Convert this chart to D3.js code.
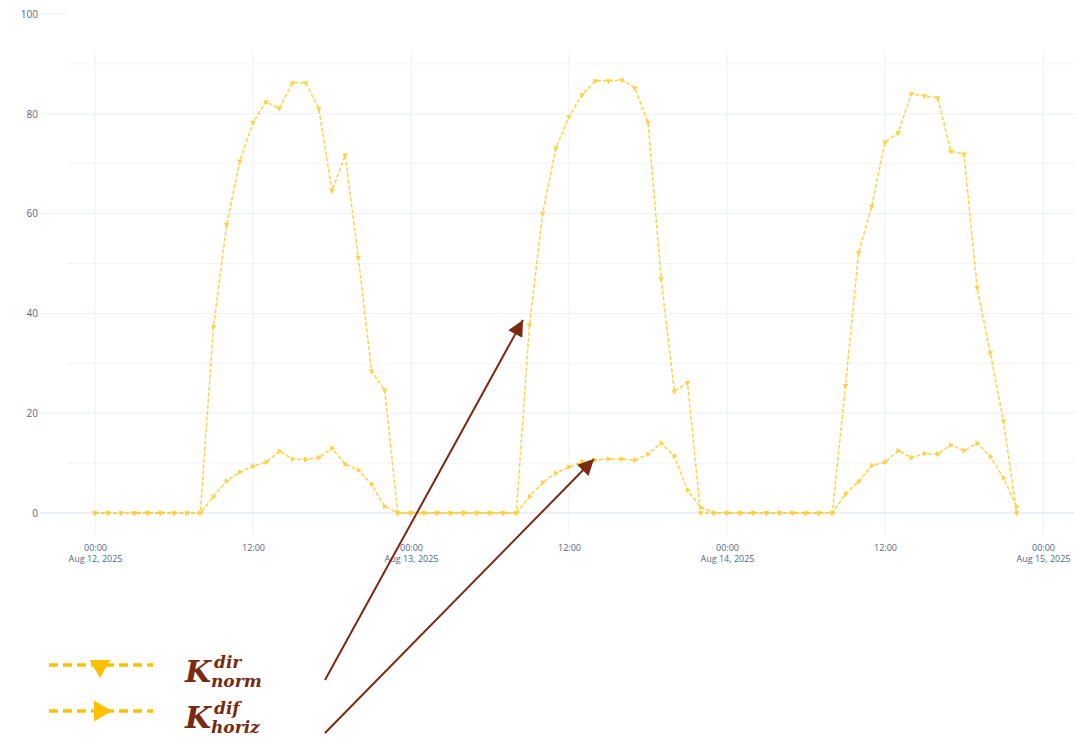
<!DOCTYPE html>
<html lang="en">
  <head>
    <meta charset="utf-8">
    <title>K dir norm / K dif horiz</title>
    <style>
      body{ margin:0; background:#fff; }
      .tick text{ font-family:"Open Sans", sans-serif; fill:#506784; }
    </style>
    <script type="text/javascript" src="https://cdn.jsdelivr.net/npm/d3@7"></script>
  </head>
  <body>
  <svg width="1086" height="741"></svg>
    <script>
    // hourly values from Aug 12, 2025 00:00
    var startTime = "2025-08-12 00:00";
    var kDirNorm = [
      0,0,0,0,0,0,0,0,0, 37.3,57.8,70.5,78.3,82.4,81.1,86.2,86.2,81.1,64.6,71.7,51.2,28.5,24.6,0,
      0,0,0,0,0,0,0,0,0, 37.7,60.1,73.1,79.4,83.8,86.6,86.6,86.8,85.2,78.3,46.9,24.4,26.1,0,0,
      0,0,0,0,0,0,0,0,0, 25.5,52.2,61.5,74.3,76.2,84.0,83.6,83.2,72.5,71.9,45.1,32.1,18.4,0
    ];
    var kDifHoriz = [
      0,0,0,0,0,0,0,0,0, 3.3,6.4,8.2,9.4,10.2,12.4,10.8,10.7,11.1,13.0,9.8,8.6,5.8,1.3,0,
      0,0,0,0,0,0,0,0,0, 3.3,6.1,8.0,9.2,10.3,10.6,10.8,10.8,10.6,11.8,14.0,11.4,4.6,1.1,0,
      0,0,0,0,0,0,0,0,0, 3.8,6.3,9.5,10.2,12.5,11.1,11.9,11.8,13.6,12.5,14.0,11.3,7.0,1.3
    ];
    var yTicks = [0,20,40,60,80,100];
    var yMinor = [10,30,50,70,90];
    var xTickTimes = ["2025-08-12 00:00","2025-08-12 12:00","2025-08-13 00:00","2025-08-13 12:00",
                      "2025-08-14 00:00","2025-08-14 12:00","2025-08-15 00:00"];

    var parseTime = d3.timeParse("%Y-%m-%d %H:%M");
    var t0 = parseTime(startTime);
    var lineColor = "#FFC000", brown = "#782A12";

    var svg = d3.select("svg");
    var plot = {left:67, right:1075, top:52, bottom:535};

    var xScale = d3.scaleTime()
        .domain([parseTime("2025-08-12 00:00"), parseTime("2025-08-15 00:00")])
        .range([95, 1043]);
    var yScale = d3.scaleLinear().domain([0,100]).range([513,14]);

    svg.append("clipPath").attr("id","plotclip").append("rect")
        .attr("x",plot.left).attr("y",plot.top)
        .attr("width",plot.right-plot.left).attr("height",plot.bottom-plot.top);

    //grid
    var grid = svg.append("g");
    grid.selectAll(".minor").data(yMinor.concat(yTicks.filter(function(d){return d<100;})))
      .enter().append("line")
        .attr("x1",plot.left).attr("x2",plot.right)
        .attr("y1",function(d){return yScale(d);}).attr("y2",function(d){return yScale(d);})
        .attr("stroke",function(d){return d%20==0 ? "#EBF0F8" : "#F2F4F9";})
        .attr("stroke-width",function(d){return d==0 ? 2 : 1;});
    grid.selectAll(".stub").data(yTicks).enter().append("line")
        .attr("x1",40).attr("x2",plot.left)
        .attr("y1",function(d){return yScale(d);}).attr("y2",function(d){return yScale(d);})
        .attr("stroke","#EBF0F8").attr("stroke-width",function(d){return d==0 ? 2 : 1;});
    grid.selectAll(".vgrid").data(xTickTimes).enter().append("line")
        .attr("x1",function(d){return xScale(parseTime(d));})
        .attr("x2",function(d){return xScale(parseTime(d));})
        .attr("y1",plot.top).attr("y2",plot.bottom)
        .attr("stroke","#EBF0F8");

    //y axis labels
    var yAxis = svg.append("g").attr("transform","translate(40,0)")
        .call(d3.axisLeft(yScale).tickValues(yTicks).tickSize(0).tickPadding(2));
    yAxis.select(".domain").remove();
    yAxis.selectAll("text").style("font-size","10px");

    //x axis labels
    var fmtHour = d3.timeFormat("%H:%M"), fmtDay = d3.timeFormat("%b %-d, %Y");
    var xAxis = svg.append("g").attr("transform","translate(0,540)")
        .call(d3.axisBottom(xScale).tickValues(xTickTimes.map(parseTime)).tickSize(0).tickFormat(""));
    xAxis.select(".domain").remove();
    xAxis.selectAll(".tick").each(function(d){
        var t = d3.select(this).append("text").attr("text-anchor","middle")
            .style("font-size","9px").attr("fill","#506784");
        t.append("tspan").attr("x",0).attr("y",11).text(fmtHour(d));
        if (d.getHours()==0) t.append("tspan").attr("x",0).attr("y",22).text(fmtDay(d));
    });

    //series
    function makeData(vals){
        return vals.map(function(v,i){ return {t:d3.timeHour.offset(t0,i), v:v}; });
    }
    var series = [
      {data:makeData(kDirNorm), angle:180},
      {data:makeData(kDifHoriz), angle:90}
    ];
    var line = d3.line().x(function(d){return xScale(d.t);}).y(function(d){return yScale(d.v);});
    var tri = d3.symbol().type(d3.symbolTriangle).size(14);

    var lines = svg.append("g").attr("clip-path","url(#plotclip)").attr("opacity",0.72);
    series.forEach(function(s){
        lines.append("path").datum(s.data)
            .attr("d",line).attr("fill","none")
            .attr("stroke",lineColor).attr("stroke-width",1.5)
            .attr("stroke-dasharray","4,2");
        lines.selectAll(null).data(s.data).enter().append("path")
            .attr("d",tri).attr("fill",lineColor)
            .attr("transform",function(d){
              return "translate("+xScale(d.t)+","+yScale(d.v)+") rotate("+s.angle+")";});
    });

    //legend
    var legend = [
      {y:665, angle:180, sup:"dir", sub:"norm"},
      {y:711, angle:90, sup:"dif", sub:"horiz"}
    ];
    var lg = svg.append("g");
    legend.forEach(function(l){
        lg.append("line").attr("x1",49).attr("x2",153).attr("y1",l.y).attr("y2",l.y)
            .attr("stroke",lineColor).attr("stroke-width",3.5).attr("stroke-dasharray","9,5");
        lg.append("path").attr("d",d3.symbol().type(d3.symbolTriangle).size(190))
            .attr("fill",lineColor)
            .attr("transform","translate(100,"+(l.y+ (l.angle==180 ? 1 : 0))+") rotate("+l.angle+")");
        var g = lg.append("g").attr("fill",brown)
            .style("font-family","'DejaVu Serif', serif").style("font-weight","bold").style("font-style","italic");
        g.append("text").attr("x",185).attr("y",l.y+17).style("font-size","30px").text("K");
        g.append("text").attr("x",214).attr("y",l.y+3).style("font-size","17px").text(l.sup);
        g.append("text").attr("x",211).attr("y",l.y+22).style("font-size","17px").text(l.sub);
    });

    //arrows
    var arrows = [
      {from:[325,680], to:[523,320]},
      {from:[325,733], to:[594,459]}
    ];
    svg.append("defs").append("marker")
        .attr("id","arrowhead").attr("viewBox","0 0 10 10")
        .attr("refX",10).attr("refY",5)
        .attr("markerWidth",9).attr("markerHeight",8).attr("markerUnits","strokeWidth")
        .attr("orient","auto")
      .append("path").attr("d","M0,0 L10,5 L0,10 Z").attr("fill",brown);
    svg.selectAll(".arrow").data(arrows).enter().append("line")
        .attr("x1",function(d){return d.from[0];}).attr("y1",function(d){return d.from[1];})
        .attr("x2",function(d){return d.to[0];}).attr("y2",function(d){return d.to[1];})
        .attr("stroke",brown).attr("stroke-width",2)
        .attr("marker-end","url(#arrowhead)");

    </script>
  </body>
</html>
